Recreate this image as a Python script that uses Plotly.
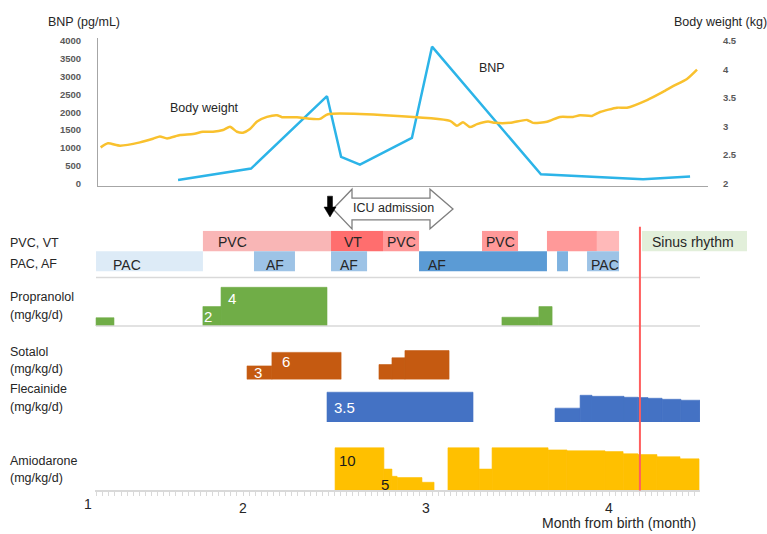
import plotly.graph_objects as go

# ---------------- data ----------------
bnp_month = [1.645, 2.044, 2.459, 2.536, 2.639, 2.923, 3.033, 3.628, 4.186, 4.443]
bnp_value = [100, 420, 2450, 750, 530, 1280, 3840, 260, 120, 200]

weight_month = [1.222, 1.262, 1.328, 1.437, 1.508, 1.546, 1.585, 1.656, 1.727, 1.781,
                1.836, 1.891, 1.929, 1.967, 2.000, 2.038, 2.077, 2.131, 2.186, 2.213,
                2.295, 2.366, 2.421, 2.464, 3.131, 3.169, 3.202, 3.240, 3.279, 3.339,
                3.377, 3.459, 3.552, 3.585, 3.661, 3.732, 3.803, 3.842, 3.907, 3.951,
                4.044, 4.098, 4.208, 4.295, 4.350, 4.426, 4.481]
weight_kg = [2.635, 2.705, 2.665, 2.722, 2.786, 2.826, 2.792, 2.851, 2.868, 2.908,
             2.908, 2.938, 2.995, 2.908, 2.891, 2.955, 3.087, 3.168, 3.198, 3.163,
             3.163, 3.134, 3.134, 3.215, 3.099, 3.012, 3.076, 2.990, 3.042, 3.087,
             3.064, 3.064, 3.116, 3.064, 3.082, 3.168, 3.168, 3.198, 3.186, 3.255,
             3.330, 3.330, 3.464, 3.608, 3.707, 3.833, 3.997]

bnp_ticks = [0, 500, 1000, 1500, 2000, 2500, 3000, 3500, 4000]
weight_ticks = [2, 2.5, 3, 3.5, 4, 4.5]
month_ticks = [2, 3, 4]

# rhythm rows (months)
row1_start = [1.781, 2.481, 2.765, 3.306, 3.661, 3.934]
row1_end = [2.481, 2.765, 2.962, 3.503, 3.934, 4.055]
row1_labels = ["PVC", "VT", "PVC", "PVC", "", ""]
row2_start = [1.197, 2.060, 2.481, 2.962, 3.716, 3.880]
row2_end = [1.781, 2.284, 2.678, 3.661, 3.776, 4.055]
row2_labels = ["PAC", "AF", "AF", "AF", "", "PAC"]
sinus_start = [4.180]
sinus_end = [4.754]
sinus_labels = ["Sinus rhythm"]

prop_start = [1.197, 1.781, 1.880, 3.415, 3.617]
prop_end = [1.295, 1.880, 2.459, 3.617, 3.689]
prop_dose = [0.85, 2, 4, 0.9, 2]

sota_start = [2.022, 2.158, 2.743, 2.814, 2.885]
sota_end = [2.158, 2.536, 2.814, 2.885, 3.126]
sota_dose = [3, 6, 3.3, 4.8, 6.4]

flec_start = [2.459, 3.705, 3.842, 3.907, 4.082, 4.158, 4.213, 4.290, 4.393]
flec_end = [3.257, 3.842, 3.907, 4.082, 4.158, 4.213, 4.290, 4.393, 4.497]
flec_dose = [3.5, 1.63, 3.14, 3.02, 2.91, 2.87, 2.79, 2.67, 2.56]

amio_start = [2.503, 2.770, 2.814, 2.842, 2.978, 3.120, 3.290, 3.361, 3.667, 3.770,
              3.978, 4.077, 4.158, 4.262, 4.388]
amio_end = [2.770, 2.814, 2.842, 2.978, 3.044, 3.290, 3.361, 3.667, 3.770, 3.978,
            4.077, 4.158, 4.262, 4.388, 4.492]
amio_dose = [10, 5, 3.3, 3.0, 1.9, 10, 5, 10, 9.5, 9.3, 9.1, 8.6, 8.4, 7.9, 7.4]

event_month = 4.169  # sinus rhythm restored

# ---------------- layout helpers ----------------
W, H = 767, 534
FONT = "Liberation Sans, Arial, sans-serif"
TXT = "#262626"


def px(x):
    return x / W


def py(y):
    return 1 - y / H


def pm(x):  # pixel -> month
    return 2 + (x - 243) / 183.0


def widths(s, e):
    return [b - a for a, b in zip(s, e)]


fig = go.Figure()

# top panel
fig.add_trace(go.Scatter(x=weight_month, y=weight_kg, mode="lines",
                         line=dict(color="#F9C12E", width=2.5, shape="spline", smoothing=0.6),
                         xaxis="x3", yaxis="y2", hoverinfo="skip"))
fig.add_trace(go.Scatter(x=bnp_month, y=bnp_value, mode="lines",
                         line=dict(color="#2CB4E8", width=2.5),
                         xaxis="x3", yaxis="y", hoverinfo="skip"))

# rhythm rows
row1_colors = ["#F9B6B6", "#FF6E6E", "#FF9999", "#FF9999", "#FF9999", "#FFB9B9"]
row2_colors = ["#DDEBF7", "#9DC3E6", "#9DC3E6", "#5B9BD5", "#7EB2E0", "#9DC3E6"]
fig.add_trace(go.Bar(orientation="h", y=[1.5] * len(row1_start), x=widths(row1_start, row1_end),
                     base=row1_start, width=1, marker=dict(color=row1_colors, line=dict(width=0)),
                     xaxis="x2", yaxis="y3", hoverinfo="skip"))
fig.add_trace(go.Bar(orientation="h", y=[0.5] * len(row2_start), x=widths(row2_start, row2_end),
                     base=row2_start, width=1, marker=dict(color=row2_colors, line=dict(width=0)),
                     xaxis="x2", yaxis="y3", hoverinfo="skip"))
fig.add_trace(go.Bar(orientation="h", y=[1.5], x=widths(sinus_start, sinus_end),
                     base=sinus_start, width=1, marker=dict(color="#E2EFDA", line=dict(width=0)),
                     xaxis="x2", yaxis="y3", hoverinfo="skip"))

# drug panels
for s, e, d, col, ya in [(prop_start, prop_end, prop_dose, "#70AD47", "y4"),
                         (sota_start, sota_end, sota_dose, "#C55A11", "y5"),
                         (flec_start, flec_end, flec_dose, "#4472C4", "y6"),
                         (amio_start, amio_end, amio_dose, "#FFC000", "y7")]:
    fig.add_trace(go.Bar(x=s, y=d, width=widths(s, e), offset=0, base=0,
                         marker=dict(color=col, line=dict(width=0.6, color=col)),
                         xaxis="x", yaxis=ya, hoverinfo="skip"))

hidden = dict(visible=False, showgrid=False, zeroline=False, fixedrange=True)

fig.update_layout(
    width=W, height=H, margin=dict(l=0, r=0, t=0, b=0),
    paper_bgcolor="white", plot_bgcolor="white", showlegend=False,
    barmode="overlay", font=dict(family=FONT, color=TXT),
    xaxis=dict(domain=[px(95), px(700)], range=[pm(95), pm(700)], anchor="y7",
               showline=True, linecolor="#D9D9D9", linewidth=2,
               tickvals=month_ticks, ticks="outside", ticklen=4, tickcolor="#D9D9D9",
               tickfont=dict(size=14, color=TXT, family=FONT),
               minor=dict(ticks="outside", ticklen=4, tickcolor="#D9D9D9",
                          tickmode="linear", tick0=2, dtick=1 / 30.0, showgrid=False),
               showgrid=False, zeroline=False),
    xaxis2=dict(domain=[0, 1], range=[pm(0), pm(767)], anchor="y3", **hidden),
    xaxis3=dict(domain=[px(98), px(708)], range=[pm(98), pm(708)], anchor="y",
                showline=True, linecolor="#A6A6A6", linewidth=1, showticklabels=False,
                ticks="", showgrid=False, zeroline=False),
    yaxis=dict(domain=[py(186), py(36)], range=[-75, 4092], anchor="x3",
               showline=True, linecolor="#A6A6A6", linewidth=1,
               tickvals=bnp_ticks, tickformat="d", ticks="outside", ticklen=14,
               tickcolor="rgba(0,0,0,0)",
               tickfont=dict(size=9.5, color="#595959", family=FONT, weight="bold"),
               showgrid=False, zeroline=False),
    yaxis2=dict(overlaying="y", side="right", anchor="x3", range=[1.953, 4.557],
                tickvals=weight_ticks, ticks="outside", ticklen=12, tickcolor="rgba(0,0,0,0)",
                tickfont=dict(size=9.5, color="#595959", family=FONT, weight="bold"),
                showline=False, showgrid=False, zeroline=False),
    yaxis3=dict(domain=[py(272), py(231)], range=[0, 2], anchor="x2", **hidden),
    yaxis4=dict(domain=[py(327), py(280)], range=[0, 47 / 9.75], anchor="x", **hidden),
    yaxis5=dict(domain=[py(381), py(340)], range=[0, 41 / 4.55], anchor="x", **hidden),
    yaxis6=dict(domain=[py(424), py(388)], range=[0, 36 / 8.6], anchor="x", **hidden),
    yaxis7=dict(domain=[py(493), py(445)], range=[0, 48 / 4.3], anchor="x", **hidden),
)

shapes = []
# separator and propranolol baseline
for yy in (278, 327):
    shapes.append(dict(type="line", xref="paper", yref="paper", x0=px(96), x1=px(700),
                       y0=py(yy), y1=py(yy), line=dict(color="#D9D9D9", width=1.5)))
# event line
shapes.append(dict(type="line", xref="x", yref="paper", x0=event_month, x1=event_month,
                   y0=py(493), y1=py(227), line=dict(color="#FF5E5E", width=2)))


def path(pts):
    return "M " + " L ".join(f"{px(a):.5f},{py(b):.5f}" for a, b in pts) + " Z"


icu = [(333, 209), (352, 189), (352, 198), (430, 198), (430, 189), (453, 209),
       (430, 229), (430, 220), (352, 220), (352, 229)]
shapes.append(dict(type="path", xref="paper", yref="paper", path=path(icu),
                   fillcolor="white", line=dict(color="#7F7F7F", width=1.3)))
blk = [(327.5, 196), (332.5, 196), (332.5, 207), (336, 207), (330, 217), (324, 207), (327.5, 207)]
shapes.append(dict(type="path", xref="paper", yref="paper", path=path(blk),
                   fillcolor="black", line=dict(color="black", width=0.5)))
fig.update_layout(shapes=shapes)

ann = []


def text(x, y, t, size=12.5, color=TXT, anchor="center"):
    ann.append(dict(x=px(x), y=py(y), xref="paper", yref="paper", text=t, showarrow=False,
                    xanchor=anchor, yanchor="middle", font=dict(size=size, color=color, family=FONT)))


# titles
text(84, 20, "BNP (pg/mL)")
text(720, 20, "Body weight (kg)")
text(205, 107, "Body weight")
text(492, 67, "BNP")
text(393, 208, "ICU admission")

# rhythm labels
for lx, t in zip([232, 353, 401, 500], [l for l in row1_labels if l]):
    text(lx, 242, t, size=14)
for lx, t in zip([127, 275, 349, 437, 605], [l for l in row2_labels if l]):
    text(lx, 265, t, size=14)
text(693, 242, sinus_labels[0], size=14)

# row labels
for y, t in [(243, "PVC, VT"), (264, "PAC, AF"), (298, "Propranolol"), (316, "(mg/kg/d)"),
             (353, "Sotalol"), (370, "(mg/kg/d)"), (391, "Flecainide"), (409, "(mg/kg/d)"),
             (463, "Amiodarone"), (481, "(mg/kg/d)")]:
    text(8, y, t, anchor="left")

# dose labels
text(232, 299, str(prop_dose[2]), size=15, color="white")
text(208, 317, str(prop_dose[1]), size=15, color="white")
text(258, 374, str(sota_dose[0]), size=15, color="white")
text(286, 363, str(sota_dose[1]), size=15, color="white")
text(344, 409, str(flec_dose[0]), size=15, color="white")
text(347, 463, str(amio_dose[0]), size=15, color="#1a1a1a")
text(385, 487, str(amio_dose[1]), size=15, color="#1a1a1a")

# axis extras
text(88, 507, "1", size=14)
text(619, 526, "Month from birth (month)", size=14)

fig.update_layout(annotations=ann)
fig.write_html("out.html", config={"displayModeBar": False, "staticPlot": True},
               post_script="document.body.style.margin='0';document.body.style.overflow='hidden';")
